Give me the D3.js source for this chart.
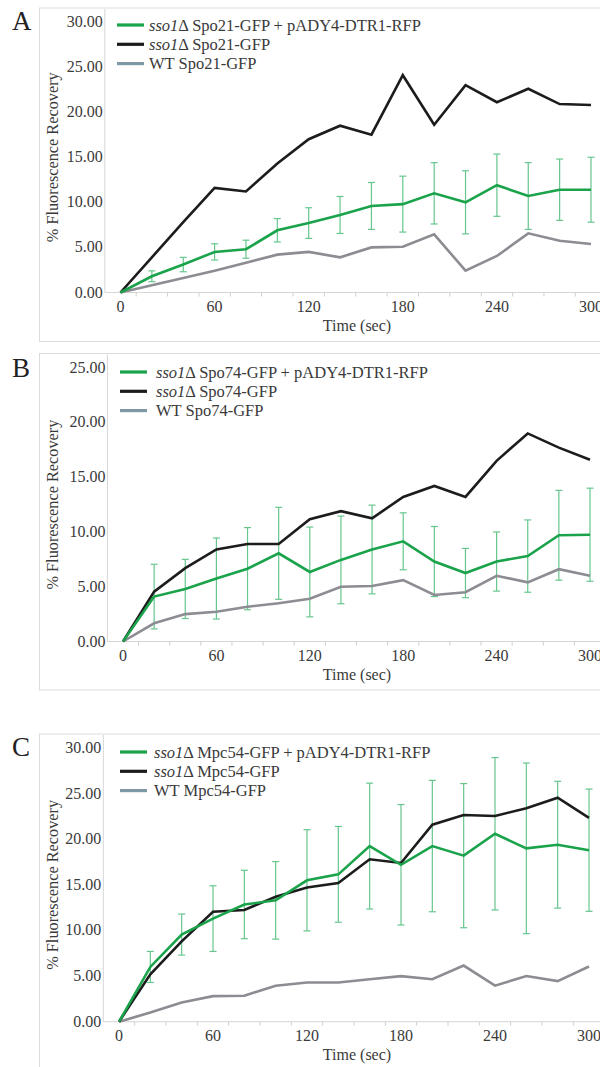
<!DOCTYPE html>
<html><head><meta charset="utf-8">
<script src="https://cdn.jsdelivr.net/npm/d3@7"></script>
<style>body{margin:0;background:#fff} svg{display:block}</style>
</head><body><svg id="c" width="600" height="1067"></svg>
<script>
// ---------- DATA ----------
const times = [0,20,40,60,80,100,120,140,160,180,200,220,240,260,280,300];
const xTickLabels = [0,60,120,180,240,300];
const xMinorTicks = [10,30,50,70,90,110,130,150,170,190,210,230,250,270,290];
const yTicksA = [0,5,10,15,20,25,30];
const yTicksB = [0,5,10,15,20,25];
const yTicksC = [0,5,10,15,20,25,30];
const proteins = ["Spo21","Spo74","Mpc54"];
const panelLetters = ["A","B","C"];

// Panel A (Spo21)
const greenA = [0,1.8,3.1,4.5,4.8,6.9,7.7,8.6,9.6,9.8,11.0,10.0,11.9,10.7,11.4,11.4];
const errA   = [0,0.6,0.8,0.9,1.0,1.3,1.7,2.05,2.6,3.1,3.4,3.5,3.45,3.7,3.4,3.6];
const blackA = [0,3.9,7.8,11.6,11.2,14.3,17.0,18.5,17.5,24.1,18.6,23.0,21.1,22.6,20.9,20.8];
const grayA  = [0,0.8,1.6,2.4,3.3,4.2,4.5,3.9,5.0,5.08,6.45,2.42,4.05,6.56,5.74,5.38];

// Panel B (Spo74)
const greenB = [0,4.1,4.8,5.75,6.65,8.05,6.35,7.45,8.4,9.15,7.3,6.25,7.3,7.8,9.7,9.75];
const errB   = [0,2.95,2.7,3.7,3.75,4.2,4.1,4.0,4.05,2.6,3.2,2.25,2.7,3.3,4.1,4.25];
const blackB = [0,4.55,6.7,8.4,8.9,8.9,11.16,11.9,11.25,13.2,14.2,13.2,16.5,19.0,17.7,16.6];
const grayB  = [0,1.66,2.5,2.72,3.18,3.5,3.9,5.0,5.07,5.6,4.25,4.5,6.0,5.4,6.6,6.0];

// Panel C (Mpc54)
const greenC = [0,6.0,9.55,11.3,12.85,13.3,15.5,16.15,19.25,17.2,19.25,18.2,20.6,19.0,19.4,18.8];
const errC   = [0,1.7,2.25,3.6,3.75,4.25,5.55,5.25,6.9,6.6,7.2,7.9,8.35,9.35,6.95,6.7];
const blackC = [0,5.2,8.8,12.05,12.25,13.7,14.7,15.2,17.8,17.4,21.6,22.65,22.55,23.4,24.55,22.35];
const grayC  = [0,1.0,2.1,2.8,2.85,3.95,4.3,4.3,4.65,5.0,4.65,6.15,3.95,5.0,4.45,6.05];

// ---------- STYLE / LAYOUT ----------
const FONT = "'Liberation Serif','Times New Roman',Times,serif";
const COL_GREEN = "#1aa34b", COL_ERR = "#66c68e", COL_BLACK = "#1c1c1c",
      COL_GRAY = "#8c8d92", COL_GRAY_LEG = "#7f98a6", COL_TEXT = "#3a3a3a",
      COL_FRAME = "#dcdcdc", COL_AXIS = "#d6d6d6";

const panels = [
  {green:greenA, err:errA, black:blackA, gray:grayA, yTicks:yTicksA,
   frameTop:8, frameBottom:341.5, y0:292.5, yMaxPx:22, x0:120.5, x300:591,
   letterY:30, legX:117, legTextX:149, legY:25},
  {green:greenB, err:errB, black:blackB, gray:grayB, yTicks:yTicksB,
   frameTop:353.5, frameBottom:690, y0:641.5, yMaxPx:367.7, x0:123, x300:590,
   letterY:377, legX:120, legTextX:156, legY:372},
  {green:greenC, err:errC, black:blackC, gray:grayC, yTicks:yTicksC,
   frameTop:734, frameBottom:1100, y0:1021.7, yMaxPx:748, x0:119, x300:589,
   letterY:756, legX:120, legTextX:154, legY:752}
];

const svg = d3.select("#c");

panels.forEach((p, i) => {
  const g = svg.append("g");
  const yMax = d3.max(p.yTicks);
  const x = d3.scaleLinear().domain([0,300]).range([p.x0, p.x300]);
  const y = d3.scaleLinear().domain([0,yMax]).range([p.y0, p.yMaxPx]);

  // frame
  g.append("rect").attr("x",39.5).attr("y",p.frameTop).attr("width",620)
    .attr("height",p.frameBottom-p.frameTop).attr("fill","none")
    .attr("stroke",COL_FRAME).attr("stroke-width",1);

  // panel letter
  g.append("text").attr("x",12).attr("y",p.letterY).text(panelLetters[i])
    .attr("font-family",FONT).attr("font-size",27).attr("fill","#222");

  // axes lines
  const xL = x(-10);
  g.append("line").attr("x1",xL).attr("x2",600).attr("y1",p.y0).attr("y2",p.y0)
    .attr("stroke",COL_AXIS).attr("stroke-width",1);
  g.append("line").attr("x1",xL).attr("x2",xL).attr("y1",p.frameTop+1).attr("y2",p.y0)
    .attr("stroke",COL_AXIS).attr("stroke-width",1);

  // x ticks
  g.selectAll(".mt").data(xMinorTicks).enter().append("line")
    .attr("x1",d=>x(d)).attr("x2",d=>x(d)).attr("y1",p.y0).attr("y2",p.y0+4)
    .attr("stroke","#cfcfcf").attr("stroke-width",1);
  g.selectAll(".xl").data(xTickLabels).enter().append("text")
    .attr("x",d=>x(d)).attr("y",p.y0+19.5).attr("text-anchor","middle")
    .attr("font-family",FONT).attr("font-size",16).attr("fill",COL_TEXT).text(d=>d);

  // y tick labels
  const fmt = d3.format(".2f");
  g.selectAll(".yl").data(p.yTicks).enter().append("text")
    .attr("x",xL-2).attr("y",d=>y(d)+5).attr("text-anchor","end")
    .attr("font-family",FONT).attr("font-size",16).attr("fill",COL_TEXT).text(d=>fmt(d));

  // axis titles
  g.append("text").attr("x",357).attr("y",p.y0+38.5).attr("text-anchor","middle")
    .attr("font-family",FONT).attr("font-size",16).attr("fill",COL_TEXT).text("Time (sec)");
  const yc = (p.y0 + p.yMaxPx)/2;
  g.append("text").attr("transform",`translate(57.5,${yc}) rotate(-90)`)
    .attr("text-anchor","middle").attr("font-family",FONT).attr("font-size",16.3)
    .attr("fill",COL_TEXT).text("% Fluorescence Recovery");

  // error bars
  const eb = g.append("g").attr("stroke",COL_ERR).attr("stroke-width",1.2);
  times.forEach((t,k) => {
    const e = p.err[k]; if (!e) return;
    const cx = x(t), yt = y(p.green[k]+e), yb = y(p.green[k]-e);
    eb.append("line").attr("x1",cx).attr("x2",cx).attr("y1",yt).attr("y2",yb);
    eb.append("line").attr("x1",cx-3.5).attr("x2",cx+3.5).attr("y1",yt).attr("y2",yt);
    eb.append("line").attr("x1",cx-3.5).attr("x2",cx+3.5).attr("y1",yb).attr("y2",yb);
  });

  const line = d3.line().x((d,k)=>x(times[k])).y(d=>y(d));
  [[p.gray,COL_GRAY],[p.black,COL_BLACK],[p.green,COL_GREEN]].forEach(([s,c]) => {
    g.append("path").datum(s).attr("d",line).attr("fill","none")
      .attr("stroke",c).attr("stroke-width",2.6).attr("stroke-linejoin","miter");
  });

  // legend
  const prot = proteins[i];
  const legItems = [
    {c:COL_GREEN, it:"sso1", rest:`Δ ${prot}-GFP + pADY4-DTR1-RFP`},
    {c:COL_BLACK, it:"sso1", rest:`Δ ${prot}-GFP`},
    {c:COL_GRAY_LEG, it:"", rest:`WT ${prot}-GFP`}
  ];
  legItems.forEach((d,k) => {
    const ly = p.legY + k*19.3;
    g.append("line").attr("x1",p.legX).attr("x2",p.legX+27).attr("y1",ly).attr("y2",ly)
      .attr("stroke",d.c).attr("stroke-width",3.2);
    const t = g.append("text").attr("x",p.legTextX).attr("y",ly+5.5)
      .attr("font-family",FONT).attr("font-size",16.5).attr("fill",COL_TEXT);
    if (d.it) t.append("tspan").attr("font-style","italic").text(d.it);
    t.append("tspan").text(d.rest);
  });
});
</script></body></html>
